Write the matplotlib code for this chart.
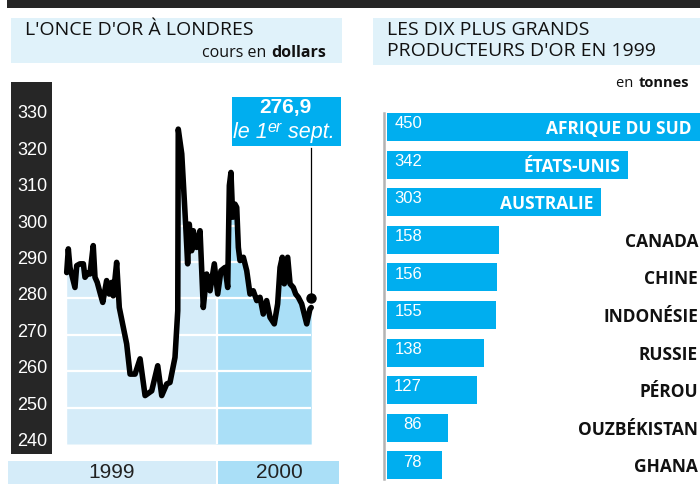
import numpy as np
import matplotlib
matplotlib.use("Agg")
import matplotlib.pyplot as plt
import matplotlib.transforms as mtransforms
from matplotlib.patches import Rectangle

# Cours de l'once d'or (mois depuis janvier 1999, dollars)
mois = [0.00, 0.13, 0.26, 0.66, 0.80, 1.06, 1.33, 1.46, 1.73, 1.86, 2.12, 2.26,
        2.44, 2.66, 2.88, 3.19, 3.40, 3.59, 3.72, 3.99, 4.20, 4.79, 5.06, 5.46,
        5.86, 6.26, 6.79, 7.27, 7.59, 7.99, 8.25, 8.65, 8.87, 8.91, 9.19, 9.50,
        9.66, 9.79, 9.98, 10.11, 10.38, 10.65, 10.91, 11.18, 11.45, 11.79, 12.06,
        12.32, 12.64, 12.86, 12.99, 13.12, 13.26, 13.44, 13.58, 13.71, 13.84,
        14.11, 14.38, 14.64, 14.90, 15.18, 15.44, 15.70, 15.97, 16.24, 16.58,
        16.85, 17.04, 17.22, 17.38, 17.65, 17.84, 18.10, 18.29, 18.50, 18.77,
        19.17, 19.43, 19.53]
cours = [287.1, 293.6, 288.5, 283.0, 289.0, 289.5, 289.5, 285.8, 287.1, 286.7,
         294.5, 285.8, 284.4, 281.6, 278.9, 284.9, 281.2, 284.4, 280.7, 289.9,
         277.5, 267.5, 259.2, 259.2, 263.4, 253.3, 254.6, 261.5, 253.3, 256.5,
         256.9, 263.8, 276.6, 326.5, 319.7, 300.4, 289.5, 300.4, 293.1, 298.6,
         294.0, 298.6, 277.5, 286.7, 282.1, 289.5, 281.2, 287.6, 288.5, 283.0,
         311.0, 314.6, 302.3, 305.9, 305.0, 294.0, 290.4, 291.3, 287.6, 281.2,
         282.1, 279.4, 280.3, 275.7, 279.4, 274.8, 273.0, 278.5, 288.5, 291.3,
         284.0, 291.3, 284.0, 283.0, 281.2, 280.3, 278.5, 273.0, 277.1, 277.5]
yticks = [240, 250, 260, 270, 280, 290, 300, 310, 320, 330]
annee_labels = ["1999", "2000"]

# Producteurs d'or en 1999 (tonnes)
pays = ["AFRIQUE DU SUD", "ÉTATS-UNIS", "AUSTRALIE", "CANADA", "CHINE",
        "INDONÉSIE", "RUSSIE", "PÉROU", "OUZBÉKISTAN", "GHANA"]
tonnes = [450, 342, 303, 158, 156, 155, 138, 127, 86, 78]

CYAN = "#00aeef"
CLAIR = "#d5ecf9"
MOYEN = "#aadff7"
TITRE_BG = "#e0f2fa"
NOIR = "#262626"

plt.rcParams['font.family'] = ['Liberation Sans', 'DejaVu Sans']

W, H = 700, 487
fig = plt.figure(figsize=(7, 4.87), dpi=100)
rend = fig.canvas.get_renderer()


def fbox(x0, y0, x1, y1):
    return [x0 / W, 1 - y1 / H, (x1 - x0) / W, (y1 - y0) / H]


def rect(x0, y0, x1, y1, color, z=-1):
    r = Rectangle((x0 / W, 1 - y1 / H), (x1 - x0) / W, (y1 - y0) / H,
                  transform=fig.transFigure, color=color, lw=0, zorder=z)
    fig.add_artist(r)
    return r


def ftext(x, y, s, **kw):
    return fig.text(x / W, 1 - y / H, s, **kw)


def largeur(t):
    return t.get_window_extent(renderer=rend).width


# bandeau du haut et titres
rect(7, 0, 700, 8, NOIR)
rect(11, 18, 342, 63, TITRE_BG)
rect(373, 18, 700, 65, TITRE_BG)
ftext(25, 35, "L'ONCE D'OR À LONDRES", family="Open Sans", fontsize=14,
      color="#111111", va="baseline")
t = ftext(326, 57, "dollars", family="Open Sans", fontsize=11.5, weight="bold",
          color="#111111", va="baseline", ha="right")
ftext(326 - largeur(t) - 1, 57, "cours en ", family="Open Sans", fontsize=11.5,
      color="#111111", va="baseline", ha="right")
ftext(387, 35, "LES DIX PLUS GRANDS", family="Open Sans", fontsize=14,
      color="#111111", va="baseline")
ftext(387, 56, "PRODUCTEURS D'OR EN 1999", family="Open Sans", fontsize=14,
      color="#111111", va="baseline")
t = ftext(689, 87, "tonnes", family="Open Sans", fontsize=10.5, weight="bold",
          color="#111111", va="baseline", ha="right")
ftext(689 - largeur(t) - 1, 87, "en ", family="Open Sans", fontsize=10.5,
      color="#111111", va="baseline", ha="right")

# ---- graphique de gauche ----
rect(11, 82, 52, 454, NOIR)
ax = fig.add_axes(fbox(60, 95, 318, 450))
ax.patch.set_alpha(0)
for s in ax.spines.values():
    s.set_visible(False)
px_m = 12.52
px_u = 3.64
ax.set_xlim((60 - 66.7) / px_m, (318 - 66.7) / px_m)
ax.set_ylim(240 - 6 / px_u, 240 + (444 - 95) / px_u)

m = np.array(mois)
p = np.array(cours)
mm = np.sort(np.append(m, 12.0))
pp = np.interp(mm, m, p)
ax.fill_between(mm, pp, 240, where=mm <= 12, color=CLAIR, lw=0, zorder=1)
ax.fill_between(mm, pp, 240, where=mm >= 12, color=MOYEN, lw=0, zorder=1)
ax.hlines(yticks[1:], 0, m[-1], color="white", lw=1.6, zorder=2)
ax.vlines(12, 240, p.max(), color="white", lw=1.6, zorder=2)
ax.plot(m, p, color="black", lw=4, solid_joinstyle="round",
        solid_capstyle="round", zorder=3, clip_on=False)

ax.set_xticks([])
ax.set_yticks(yticks)
ax.set_yticklabels([str(v) for v in yticks], color="white", fontsize=13)
ax.tick_params(axis="y", length=0, pad=9)
decal = mtransforms.ScaledTranslation(0, 2.5 / 100, fig.dpi_scale_trans)
for lab in ax.get_yticklabels():
    lab.set_va("center")
    lab.set_transform(lab.get_transform() + decal)

# repère du 1er septembre
ax.plot([m[-1], m[-1]], [281, 240 + (444 - 148) / px_u], color="black",
        lw=0.9, clip_on=False, zorder=3)
ax.plot([m[-1]], [280], "o", color="black", ms=6.5, clip_on=False, zorder=4)
boite = rect(232, 97, 341, 146, CYAN, z=1)
ftext(285, 108, "276,9", color="white", fontsize=15, weight="bold",
      ha="center", va="center", zorder=2)
# "le 1er sept." avec exposant
morceaux = [("le 1", 15.5, 0), ("er", 11.5, -6), (" sept.", 15.5, 0)]
objs = []
for s, fs, dy in morceaux:
    objs.append(fig.text(0, 0, s, color="white", fontsize=fs, style="italic",
                         va="baseline", zorder=2))
total = sum(largeur(o) for o in objs)
x = 284 - total / 2
for o, (s, fs, dy) in zip(objs, morceaux):
    o.set_position((x / W, 1 - (138 + dy) / H))
    o.set_clip_path(boite)
    x += largeur(o)

# années
rect(8, 461, 216, 484, CLAIR)
rect(218, 461, 339, 484, MOYEN)
ftext(112, 473, annee_labels[0], fontsize=15, color="#222222",
      ha="center", va="center")
ftext(279, 473, annee_labels[1], fontsize=15, color="#222222",
      ha="center", va="center")

# ---- graphique de droite ----
px_t = 0.706
bx = fig.add_axes(fbox(387, 108, 700, 484))
bx.axis("off")
xmax = (700 - 387) / px_t
bx.set_xlim(0, xmax)
bx.set_ylim(len(pays) - 0.505, -0.505)
ypos = np.arange(len(pays))
bx.barh(ypos, tonnes, height=0.745, color=CYAN, lw=0)
fig.add_artist(plt.Line2D([384 / W, 384 / W], [1 - 113 / H, 1 - 479 / H],
                          transform=fig.transFigure, color="#b3b3b3", lw=1.8))
for i, (n, v) in enumerate(zip(pays, tonnes)):
    bx.text((422 - 387) / px_t, i - 0.09, str(v), color="white", fontsize=12,
            ha="right", va="center")
    if v > 200:
        bx.text(min(v, xmax) - 8 / px_t, i, n, color="white", fontsize=12.5,
                weight="bold", family="Open Sans", ha="right",
                va="center_baseline")
    else:
        bx.text((698 - 387) / px_t, i, n, color="#111111", fontsize=12.5,
                weight="bold", family="Open Sans", ha="right",
                va="center_baseline")

fig.savefig("out.png", dpi=100)
